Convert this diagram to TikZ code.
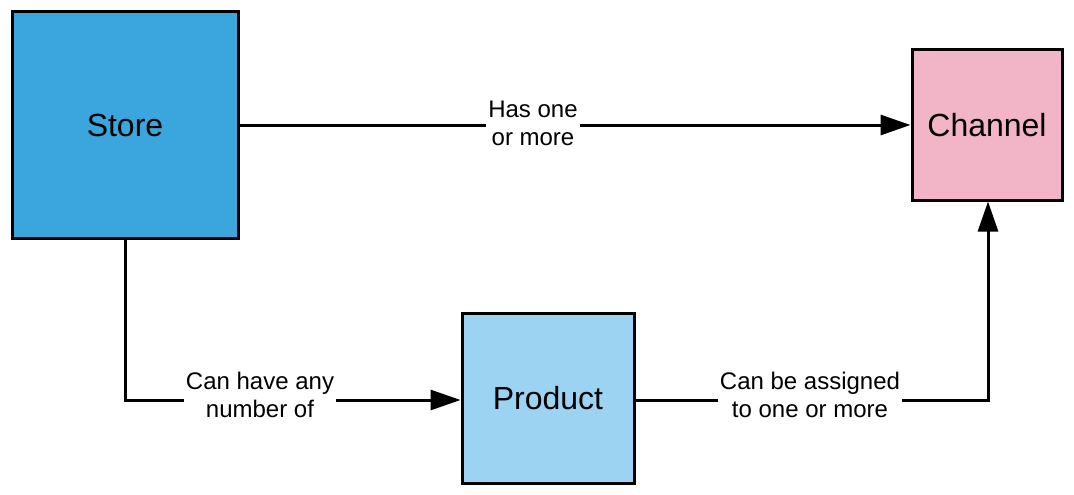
\documentclass[tikz,border=0pt]{standalone}
\usepackage{fontspec}
\setmainfont{Liberation Sans}
\usetikzlibrary{arrows.meta}
\definecolor{storec}{HTML}{3AA6DD}
\definecolor{chanc}{HTML}{F2B5C8}
\definecolor{prodc}{HTML}{9DD3F2}
\begin{document}
\begin{tikzpicture}[x=1pt,y=-1pt,
  box/.style={draw=black,line width=3pt,inner sep=0pt,font=\fontsize{32}{36}\selectfont},
  conn/.style={line width=3pt,-{Triangle[length=30pt,width=20pt]}},
  lbl/.style={fill=white,inner sep=2pt,align=center,font=\fontsize{24}{28}\selectfont}]
\useasboundingbox (0,0) rectangle (1074,495);
\node[box,fill=storec,minimum width=226pt,minimum height=226pt] (store) at (125,125) {Store};
\node[box,fill=chanc,minimum width=150pt,minimum height=150pt] (chan) at (987,125) {Channel};
\node[box,fill=prodc,minimum width=172pt,minimum height=170pt] (prod) at (548,398) {Product};
\coordinate (c1) at (125,400);
\coordinate (c2) at (988,400);
\draw[conn] (store.east) -- (chan.west);
\node[lbl] at (533,123) {Has one\\or more};
\draw[conn] (store.south) -- (c1) -- (prod.west |- c1);
\node[lbl] at (260,395) {Can have any\\number of};
\draw[conn] (prod.east |- c2) -- (c2) -- (chan.south -| c2);
\node[lbl] at (810,395) {Can be assigned\\to one or more};
\end{tikzpicture}
\end{document}
